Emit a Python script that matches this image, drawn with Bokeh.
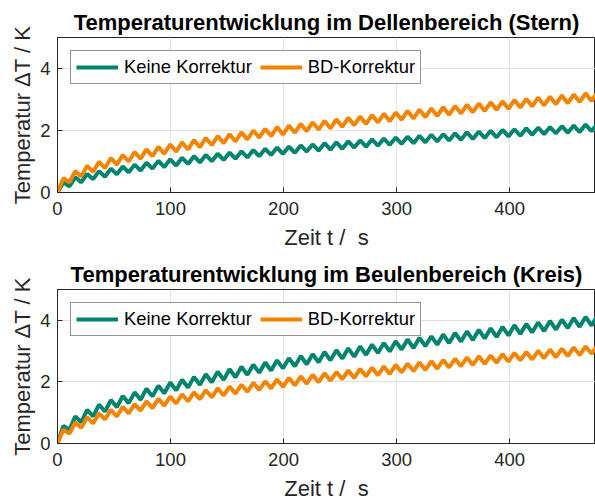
from bokeh.plotting import figure
from bokeh.layouts import column
from bokeh.models import FixedTicker, Legend, LegendItem, Range1d
from bokeh.embed import file_html
from bokeh.resources import INLINE

# Sampling grid (s): one vertex every half heating cycle
time_s = [round(5.25 * k, 2) for k in range(92)]

# Dellenbereich (Stern): temperature rise in K
stern_keine = [
    0.00, 0.33, 0.20, 0.49, 0.33, 0.60, 0.43, 0.69, 0.51, 0.77,
    0.59, 0.84, 0.65, 0.90, 0.71, 0.96, 0.77, 1.02, 0.82, 1.07,
    0.87, 1.12, 0.92, 1.17, 0.97, 1.21, 1.01, 1.25, 1.05, 1.29,
    1.09, 1.33, 1.13, 1.37, 1.17, 1.41, 1.21, 1.45, 1.25, 1.48,
    1.28, 1.52, 1.32, 1.55, 1.35, 1.59, 1.38, 1.62, 1.41, 1.65,
    1.45, 1.68, 1.48, 1.71, 1.51, 1.74, 1.54, 1.77, 1.57, 1.80,
    1.59, 1.83, 1.62, 1.86, 1.65, 1.88, 1.68, 1.91, 1.70, 1.94,
    1.73, 1.96, 1.76, 1.99, 1.78, 2.02, 1.81, 2.04, 1.83, 2.07,
    1.86, 2.09, 1.88, 2.11, 1.91, 2.14, 1.93, 2.16, 1.95, 2.19,
    1.98, 2.21,
]
stern_bd = [
    0.00, 0.46, 0.33, 0.69, 0.52, 0.86, 0.67, 0.99, 0.79, 1.11,
    0.90, 1.21, 1.00, 1.30, 1.09, 1.39, 1.17, 1.47, 1.25, 1.55,
    1.32, 1.62, 1.39, 1.69, 1.46, 1.76, 1.53, 1.82, 1.59, 1.88,
    1.65, 1.94, 1.71, 2.00, 1.77, 2.05, 1.82, 2.11, 1.87, 2.16,
    1.93, 2.21, 1.98, 2.26, 2.03, 2.31, 2.07, 2.36, 2.12, 2.41,
    2.17, 2.45, 2.21, 2.50, 2.26, 2.54, 2.30, 2.58, 2.35, 2.63,
    2.39, 2.67, 2.43, 2.71, 2.47, 2.75, 2.51, 2.79, 2.55, 2.83,
    2.59, 2.87, 2.63, 2.91, 2.67, 2.94, 2.70, 2.98, 2.74, 3.02,
    2.78, 3.06, 2.81, 3.09, 2.85, 3.13, 2.88, 3.16, 2.92, 3.20,
    2.95, 3.23,
]

# Beulenbereich (Kreis): temperature rise in K
kreis_keine = [
    0.00, 0.57, 0.44, 0.88, 0.69, 1.09, 0.88, 1.26, 1.04, 1.41,
    1.18, 1.54, 1.31, 1.66, 1.42, 1.78, 1.53, 1.88, 1.63, 1.98,
    1.73, 2.07, 1.82, 2.16, 1.91, 2.25, 1.99, 2.33, 2.07, 2.41,
    2.15, 2.49, 2.23, 2.56, 2.30, 2.63, 2.37, 2.70, 2.44, 2.77,
    2.51, 2.84, 2.57, 2.90, 2.64, 2.97, 2.70, 3.03, 2.76, 3.09,
    2.82, 3.15, 2.88, 3.21, 2.94, 3.26, 2.99, 3.32, 3.05, 3.38,
    3.10, 3.43, 3.16, 3.48, 3.21, 3.54, 3.26, 3.59, 3.31, 3.64,
    3.36, 3.69, 3.41, 3.74, 3.46, 3.79, 3.51, 3.84, 3.56, 3.88,
    3.61, 3.93, 3.65, 3.98, 3.70, 4.02, 3.75, 4.07, 3.79, 4.11,
    3.83, 4.16,
]
kreis_bd = [
    0.00, 0.45, 0.32, 0.68, 0.51, 0.85, 0.65, 0.98, 0.78, 1.09,
    0.88, 1.19, 0.98, 1.28, 1.07, 1.37, 1.15, 1.45, 1.23, 1.52,
    1.30, 1.60, 1.37, 1.66, 1.44, 1.73, 1.50, 1.79, 1.56, 1.85,
    1.62, 1.91, 1.68, 1.97, 1.74, 2.02, 1.79, 2.08, 1.84, 2.13,
    1.89, 2.18, 1.94, 2.23, 1.99, 2.28, 2.04, 2.32, 2.09, 2.37,
    2.13, 2.42, 2.18, 2.46, 2.22, 2.50, 2.26, 2.55, 2.31, 2.59,
    2.35, 2.63, 2.39, 2.67, 2.43, 2.71, 2.47, 2.75, 2.51, 2.79,
    2.55, 2.83, 2.59, 2.86, 2.62, 2.90, 2.66, 2.94, 2.70, 2.97,
    2.73, 3.01, 2.77, 3.05, 2.80, 3.08, 2.84, 3.12, 2.87, 3.15,
    2.91, 3.18,
]

series_labels = ["Keine Korrektur", "BD-Korrektur"]
panel_titles = [
    "Temperaturentwicklung im Dellenbereich (Stern)",
    "Temperaturentwicklung im Beulenbereich (Kreis)",
]
x_ticks = [0, 100, 200, 300, 400]
y_ticks = [0, 2, 4]

TEAL = "#00846f"
ORANGE = "#f38400"
INK = "#262626"
FONT = "Liberation Sans"


def make_panel(title, keine, bd, frame_h, bottom_border):
    p = figure(
        frame_width=538, frame_height=frame_h,
        x_range=Range1d(0, 476), y_range=Range1d(0, 5),
        min_border_left=57, min_border_right=0,
        min_border_top=37, min_border_bottom=bottom_border,
        output_backend="svg", toolbar_location=None,
        title=title,
    )
    p.title.align = "center"
    p.title.text_font = FONT
    p.title.text_font_size = "22px"
    p.title.text_font_style = "bold"
    p.title.text_color = "#000000"
    p.title.standoff = 6

    p.outline_line_color = INK
    p.outline_line_width = 1

    for ax in (p.xaxis[0], p.yaxis[0]):
        ax.major_tick_in = 5
        ax.major_tick_out = 0
        ax.minor_tick_line_color = None
        ax.axis_line_color = INK
        ax.major_tick_line_color = INK
        ax.major_label_text_font = FONT
        ax.major_label_text_font_size = "18.5px"
        ax.major_label_text_color = INK
        ax.axis_label_text_font = FONT
        ax.axis_label_text_font_size = "22px"
        ax.axis_label_text_font_style = "normal"
        ax.axis_label_text_color = INK

    p.xaxis.ticker = FixedTicker(ticks=x_ticks)
    p.yaxis.ticker = FixedTicker(ticks=y_ticks)
    p.xaxis.axis_label = "Zeit t / \u00a0s"
    p.yaxis.axis_label = "Temperatur ΔT / K"
    p.xaxis.major_label_standoff = 9
    p.xaxis.axis_label_standoff = 7
    p.yaxis.major_label_standoff = 7
    p.yaxis.axis_label_standoff = 2

    p.xgrid.ticker = FixedTicker(ticks=x_ticks)
    p.ygrid.ticker = FixedTicker(ticks=y_ticks)
    p.grid.grid_line_color = "#e3e3e3"
    p.grid.grid_line_width = 1

    r1 = p.line(time_s, keine, line_color=TEAL, line_width=4)
    r2 = p.line(time_s, bd, line_color=ORANGE, line_width=4)

    legend = Legend(
        items=[LegendItem(label=series_labels[0], renderers=[r1]),
               LegendItem(label=series_labels[1], renderers=[r2])],
        orientation="horizontal", location="top_left",
        margin=13, padding=5, spacing=8, label_standoff=6,
        glyph_width=42, glyph_height=14, label_height=14,
        label_text_font=FONT, label_text_font_size="18.4px",
        label_text_color="#000000",
        border_line_color=INK, border_line_width=1,
        background_fill_color="white", background_fill_alpha=1,
    )
    p.add_layout(legend)
    return p


p_top = make_panel(panel_titles[0], stern_keine, stern_bd, 155, 58)
p_bottom = make_panel(panel_titles[1], kreis_keine, kreis_bd, 154, 58)

layout = column(p_top, p_bottom, spacing=0)

open("out.html", "w").write(file_html(layout, INLINE))
